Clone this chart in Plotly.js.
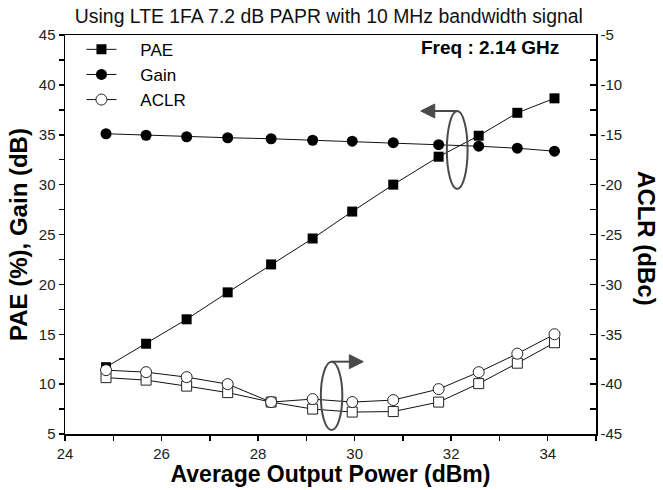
<!DOCTYPE html>
<html>
<head>
<meta charset="utf-8">
<script src="https://cdn.plot.ly/plotly-3.0.1.min.js"></script>
<style>html,body{margin:0;padding:0;background:#fff;}#chart{width:663px;height:490px;}</style>
</head>
<body>
<div id="chart"></div>
<script>
// Average output power (dBm)
var power = [24.85, 25.68, 26.52, 27.37, 28.27, 29.13, 29.95, 30.80, 31.74, 32.57, 33.37, 34.14];
// PAE (%)
var pae = [11.7, 14.05, 16.5, 19.2, 22.0, 24.6, 27.3, 30.0, 32.8, 34.9, 37.2, 38.65];
// Gain (dB)
var gain = [35.1, 34.95, 34.8, 34.7, 34.6, 34.45, 34.35, 34.2, 34.0, 33.85, 33.65, 33.35];
// ACLR (dBc), circles and squares
var aclrCircle = [-38.6, -38.8, -39.3, -40.0, -41.8, -41.5, -41.8, -41.6, -40.5, -38.8, -36.95, -35.0];
var aclrSquare = [-39.35, -39.6, -40.2, -40.85, -41.8, -42.5, -42.8, -42.75, -41.8, -39.95, -37.9, -35.85];
// Right axis tick values / labels (plain hyphen minus)
var aclrTicks = [-45, -40, -35, -30, -25, -20, -15, -10, -5];
var aclrTickText = aclrTicks.map(function (v) { return String(v); });

var F = 'Arial, "Liberation Sans", sans-serif';
var lineC = '#111';
var annC = '#4a4a4a';
var sp = '\u00a0\u00a0\u00a0\u00a0';

var traces = [
  {x: power, y: pae, name: sp + 'PAE', mode: 'lines+markers', yaxis: 'y',
   line: {color: lineC, width: 1}, marker: {symbol: 'square', size: 10, color: '#000'}},
  {x: power, y: gain, name: sp + 'Gain', mode: 'lines+markers', yaxis: 'y',
   line: {color: lineC, width: 1}, marker: {symbol: 'circle', size: 11, color: '#000'}},
  {x: power, y: aclrSquare, name: 'ACLR2', mode: 'lines+markers', yaxis: 'y2', showlegend: false,
   line: {color: lineC, width: 1}, marker: {symbol: 'square', size: 10, color: '#fff', line: {color: '#222', width: 1}}},
  {x: power, y: aclrCircle, name: sp + 'ACLR', mode: 'lines+markers', yaxis: 'y2',
   line: {color: lineC, width: 1}, marker: {symbol: 'circle', size: 11, color: '#fff', line: {color: '#222', width: 1}}}
];

var layout = {
  width: 663, height: 490,
  margin: {l: 65, r: 67, t: 35, b: 56},
  paper_bgcolor: '#fff', plot_bgcolor: '#fff',
  font: {family: F, color: '#000'},
  showlegend: true,
  legend: {x: 0.031, y: 1.008, xanchor: 'left', yanchor: 'top', bgcolor: 'rgba(0,0,0,0)',
           font: {family: F, size: 17, color: '#000'}, tracegroupgap: 0,
           traceorder: 'normal'},
  title: {text: 'Using LTE 1FA 7.2 dB PAPR with 10 MHz bandwidth signal',
          font: {family: F, size: 19.4, color: '#111'}, x: 0.496, xanchor: 'center', y: 0.966, yanchor: 'middle'},
  xaxis: {range: [24, 35], dtick: 2, tick0: 24, showgrid: false, zeroline: false,
          showline: true, linecolor: '#000', linewidth: 1.5, mirror: true,
          ticks: 'outside', ticklen: 5, tickwidth: 1.5, tickcolor: '#000',
          minor: {dtick: 1, ticks: 'outside', ticklen: 5, tickwidth: 1.5, tickcolor: '#000'},
          tickfont: {family: F, size: 15, color: '#222'},
          title: {text: '<b>Average Output Power (dBm)</b>', font: {family: F, size: 23, color: '#000'}, standoff: 0}},
  yaxis: {range: [5, 45], dtick: 5, showgrid: false, zeroline: false,
          showline: true, linecolor: '#000', linewidth: 1.5,
          ticks: 'outside', ticklen: 5, tickwidth: 1.5, tickcolor: '#000',
          minor: {dtick: 2.5, ticks: 'outside', ticklen: 5, tickwidth: 1.5, tickcolor: '#000'},
          tickfont: {family: F, size: 15, color: '#222'},
          title: {text: '<b>PAE (%), Gain (dB)</b>', font: {family: F, size: 24, color: '#000'}, standoff: 4}},
  yaxis2: {range: [-45, -5], tickmode: 'array', tickvals: aclrTicks, ticktext: aclrTickText,
           overlaying: 'y', side: 'right', showgrid: false, zeroline: false,
           showline: true, linecolor: '#000', linewidth: 1.5,
           ticks: 'inside', ticklen: 6, tickwidth: 1.5, tickcolor: '#000',
           minor: {dtick: 2.5, tick0: -45, ticks: 'inside', ticklen: 6, tickwidth: 1.5, tickcolor: '#000'},
           tickfont: {family: F, size: 15, color: '#222'}},
  annotations: [
    {text: '<b>Freq : 2.14 GHz</b>', xref: 'paper', yref: 'paper', x: 0.934, y: 0.968,
     xanchor: 'right', yanchor: 'middle', showarrow: false, font: {family: F, size: 19, color: '#000'}},
    {text: '<b>ACLR (dBc)</b>', xref: 'paper', yref: 'paper', x: 1.095, y: 0.49,
     xanchor: 'center', yanchor: 'middle', textangle: 90, showarrow: false, font: {family: F, size: 24, color: '#000'}}
  ],
  shapes: [
    // upper ellipse + arrow (points to left axis)
    {type: 'circle', xref: 'x', yref: 'y', x0: 31.91, x1: 32.34, y0: 29.56, y1: 37.38,
     line: {color: annC, width: 2}, fillcolor: 'rgba(0,0,0,0)'},
    {type: 'path', xref: 'x', yref: 'y', path: 'M 32.12 37.38 L 31.62 37.38', line: {color: annC, width: 2}},
    {type: 'path', xref: 'x', yref: 'y', path: 'M 31.37 37.38 L 31.66 38.08 L 31.66 36.68 Z',
     line: {color: annC, width: 1}, fillcolor: annC},
    // lower ellipse + arrow (points to right axis)
    {type: 'circle', xref: 'x', yref: 'y', x0: 29.30, x1: 29.745, y0: 5.4, y1: 12.25,
     line: {color: annC, width: 2}, fillcolor: 'rgba(0,0,0,0)'},
    {type: 'path', xref: 'x', yref: 'y', path: 'M 29.52 12.25 L 29.95 12.25', line: {color: annC, width: 2}},
    {type: 'path', xref: 'x', yref: 'y', path: 'M 30.18 12.25 L 29.89 12.95 L 29.89 11.55 Z',
     line: {color: annC, width: 1}, fillcolor: annC}
  ]
};

Plotly.newPlot('chart', traces, layout, {displayModeBar: false, staticPlot: true});
</script>
</body>
</html>
